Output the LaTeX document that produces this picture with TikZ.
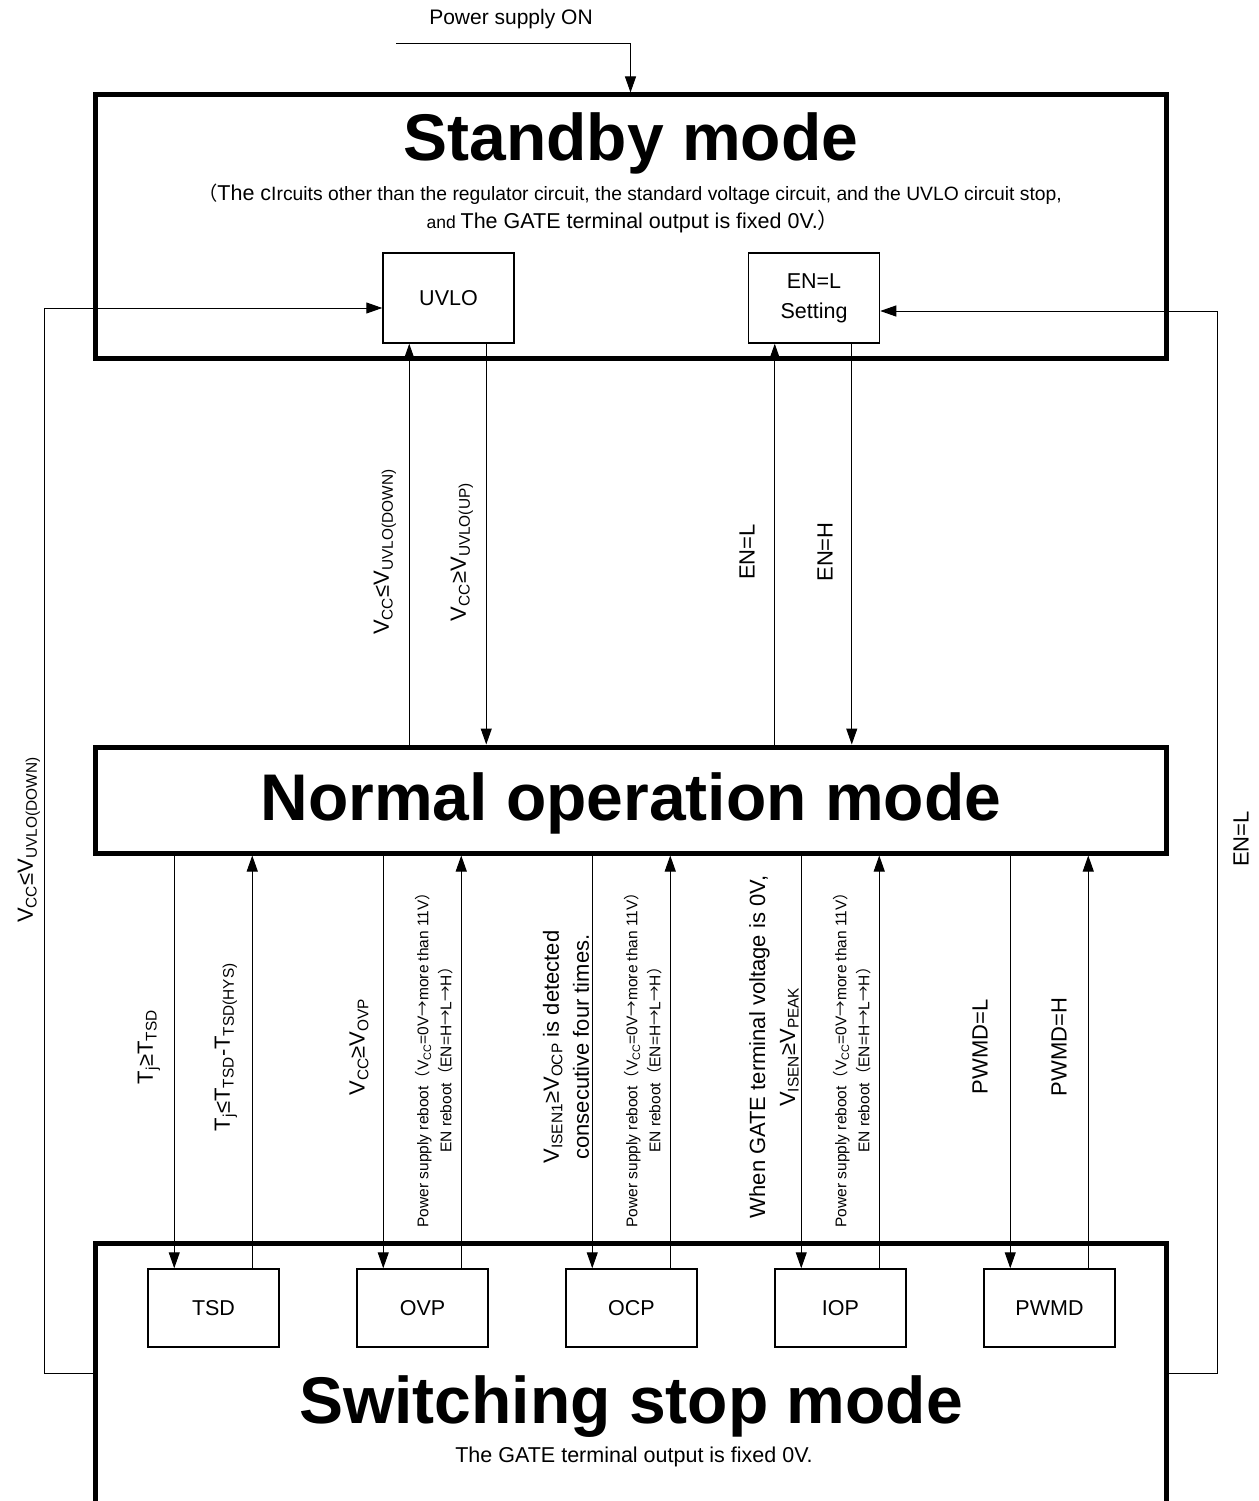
\documentclass[tikz,border=0pt]{standalone}
\usepackage{fontspec}
\setmainfont{Liberation Sans}
\newfontfamily\cjk{Noto Sans CJK JP}
\usetikzlibrary{arrows.meta}

\begin{document}
\begin{tikzpicture}[x=1pt,y=-1pt]
                \tikzstyle{every node}+=[inner sep=0pt]
                \tikzstyle{mode}=[draw, line width=5pt, minimum width=1071pt]
                \tikzstyle{blk}=[draw, line width=1.5pt, minimum width=131pt, font=\fontsize{21.5}{30}\selectfont, align=center]
                \tikzstyle{ttl}=[anchor=base, font=\fontsize{66}{70}\selectfont\bfseries]
                \tikzstyle{lbl}=[rotate=90, align=center, font=\fontsize{22}{30}\selectfont]
                \tikzstyle{tiny}=[rotate=90, align=center, font=\fontsize{15.5}{23}\selectfont]
                \tikzstyle{arr}=[line width=1pt, -{Triangle[length=16pt,width=11pt]}]
                \useasboundingbox (0,0) rectangle (1258,1501);
                \node[mode, minimum height=263pt] (stby) at (630.5,226.5) {};
                \node[mode, minimum height=106pt] (norm) at (630.5,800) {};
                \node[mode, minimum height=260pt] (sstop) at (630.5,1373) {};
                \node[ttl] (stbyt) at (631,160) {Standby mode};
                \node[ttl] (normt) at (631,820) {Normal operation mode};
                \node[ttl] (sstopt) at (631,1423) {Switching stop mode};
                \node[anchor=base, font=\fontsize{19.3}{28}\selectfont] (stbyn1) at (630,200) {{\cjk （}{\fontsize{21.5}{28}\selectfont The c}Ircuits other than the regulator circuit, the standard voltage circuit, and the UVLO circuit stop,};
                \node[anchor=base, font=\fontsize{17.5}{28}\selectfont] (stbyn2) at (633,228) {and {\fontsize{21.5}{28}\selectfont The GATE terminal output is fixed 0V.{\cjk ）}}};
                \node[anchor=base, font=\fontsize{21.5}{28}\selectfont] (sstopn) at (634,1462) {The GATE terminal output is fixed 0V.};
                \node[anchor=base, font=\fontsize{21}{24}\selectfont] (pson) at (511,25) {Power supply ON};
                \coordinate (psin) at (396,44);
                \draw[arr] (psin) -| (stby.north);
                \node[blk, minimum height=90pt] (uvlo) at (448.5,298) {UVLO};
                \node[blk, minimum height=90pt] (enl) at (814,298) {EN=L\\Setting};
                \foreach \n/\t [count=\i from 0] in {tsd/TSD,ovp/OVP,ocp/OCP,iop/IOP,pwmd/PWMD}
                        \node[blk, minimum height=78pt] (\n) at (213.5+209*\i,1308) {\t};
                \foreach \n in {uvlo,enl}{
                        \coordinate (\n-up) at ([xshift=27pt]\n.south west);
                        \coordinate (\n-dn) at ([xshift=104pt]\n.south west);
                        \draw[arr] (\n-up |- norm.north) -- (\n-up);
                        \draw[arr] (\n-dn) -- (\n-dn |- norm.north);
                }
                \foreach \n in {tsd,ovp,ocp,iop,pwmd}{
                        \coordinate (\n-in) at ([xshift=27pt]\n.north west);
                        \coordinate (\n-out) at ([xshift=105pt]\n.north west);
                        \draw[arr] (\n-in |- norm.south) -- (\n-in);
                        \draw[arr] (\n-out) -- (\n-out |- norm.south);
                }
                \coordinate (loopl) at (44,308);
                \coordinate (loopr) at (1217,311);
                \draw[arr] (sstop.west) -| (loopl) -- (loopl -| uvlo.west);
                \draw[arr] (sstop.east) -| (loopr) -- (loopr -| enl.east);
                \node[lbl] (vdown) at (385,552) {V\textsubscript{CC}≤V\textsubscript{UVLO(DOWN)}};
                \node[lbl] (vup) at (462,552) {V\textsubscript{CC}≥V\textsubscript{UVLO(UP)}};
                \node[lbl] (enlo) at (747,552) {EN=L};
                \node[lbl] (enhi) at (825,552) {EN=H};
                \node[lbl] (vdownl) at (29,840) {V\textsubscript{CC}≤V\textsubscript{UVLO(DOWN)}};
                \node[lbl] (enlor) at (1241,839) {EN=L};
                \node[lbl] (tsdon) at (149,1047) {T\textsubscript{j}≥T\textsubscript{TSD}};
                \node[lbl] (tsdoff) at (226,1047) {T\textsubscript{j}≤T\textsubscript{TSD}-T\textsubscript{TSD(HYS)}};
                \node[lbl] (ovpon) at (359,1047) {V\textsubscript{CC}≥V\textsubscript{OVP}};
                \node[lbl] (ocpon) at (566,1047) {V\textsubscript{ISEN1}≥V\textsubscript{OCP} is detected\\consecutive four times.};
                \node[lbl] (iopon) at (774,1047) {When GATE terminal voltage is 0V,\\V\textsubscript{ISEN}≥V\textsubscript{PEAK}};
                \node[lbl] (pwmdon) at (980,1047) {PWMD=L};
                \node[lbl] (pwmdoff) at (1059,1047) {PWMD=H};
                \foreach \n/\x in {ovpoff/434,ocpoff/643,iopoff/852}
                        \node[tiny] (\n) at (\x,1056) {Power supply reboot{\cjk （}V\textsubscript{CC}=0V{\cjk →}more than 11V{\cjk ）}\\EN reboot{\cjk （}EN=H{\cjk →}L{\cjk →}H{\cjk ）}};
\end{tikzpicture}
\end{document}
